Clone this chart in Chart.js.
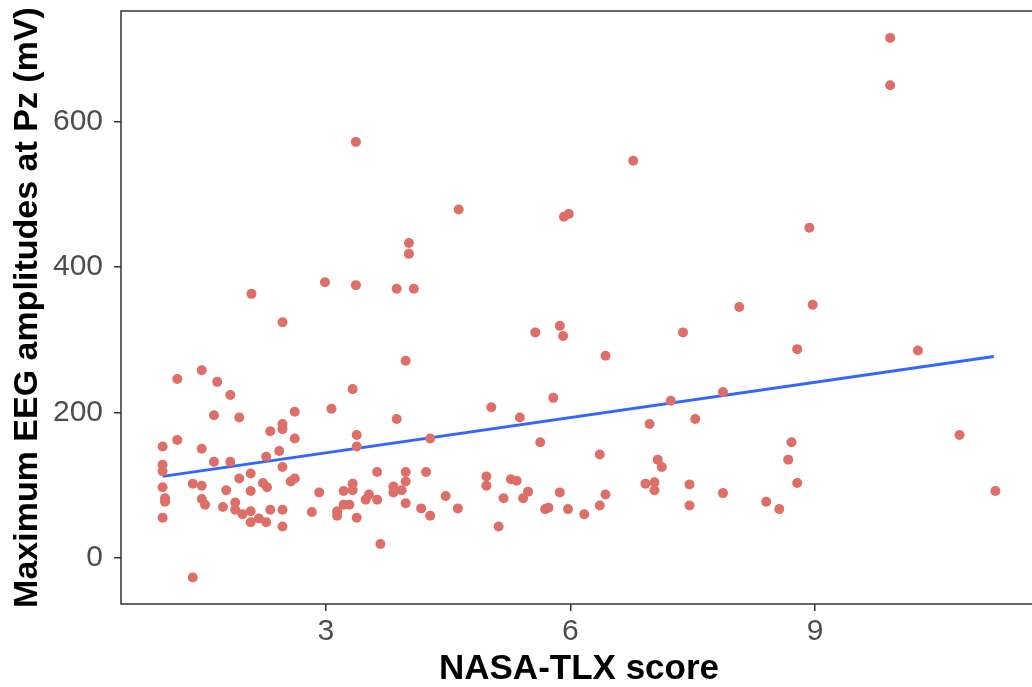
<!DOCTYPE html>
<html>
<head>
<meta charset="utf-8">
<script src="https://cdn.jsdelivr.net/npm/chart.js@4"></script>
<style>
  html, body { margin: 0; padding: 0; background: #fff; overflow: hidden; }
  #wrap { width: 1042px; height: 687px; }
</style>
</head>
<body>
<div id="wrap"><canvas id="eegChart" width="1042" height="687"></canvas></div>
<script>
// NASA-TLX score per participant
const nasaTlx = [
    3.37, 2.09, 2.99, 3.37, 3.87, 4.08, 4.02, 4.02,
    6.77, 4.63, 5.92, 5.98, 8.07,
    9.92, 9.92, 8.93, 8.97,
    2.47, 1.18, 1.48, 1.67, 1.83, 1.63, 1.94, 2.62, 3.07, 2.32, 2.47, 2.47, 2.62,
    1.00, 1.18, 1.48, 2.43, 2.27, 1.00, 1.00, 1.63, 1.83, 2.47, 2.08, 1.94, 1.37,
    1.48, 1.00, 2.23, 2.28, 2.57, 2.62, 1.78, 2.08, 2.92, 3.22, 1.03, 1.03, 1.48,
    1.52, 1.74, 1.89, 1.89, 1.98, 2.08, 2.08, 2.18, 2.27, 2.32, 2.47, 2.47, 2.83,
    3.14, 3.14, 1.00, 1.37,
    3.33, 3.98, 3.87, 3.38, 3.38, 4.28, 5.03, 5.38, 5.57, 5.87, 5.91, 5.79, 5.63,
    3.63, 3.98, 4.23, 3.98, 3.33, 3.33, 3.83, 3.83, 3.93, 3.49, 3.53, 3.63, 3.98,
    4.47, 3.22, 3.29, 3.38, 4.17, 4.28, 4.62, 3.67, 4.97, 4.97, 5.18, 5.12, 5.27,
    5.34, 5.48, 5.42, 5.69, 5.73, 5.87, 5.97,
    6.43, 7.38, 6.97, 7.53, 7.23, 7.87, 6.36, 7.07, 7.12, 6.92, 7.03, 7.03, 7.46,
    7.46, 7.87, 6.17, 6.36, 6.43, 8.40, 8.56,
    8.78, 10.26, 8.71, 8.67, 8.78, 10.77, 11.21
];
// Maximum EEG amplitude at Pz (mV)
const eegAmp = [
    572, 363, 379, 375, 370, 370, 433, 418,
    546, 479, 469, 473, 345,
    715, 650, 454, 348,
    324, 246, 258, 242, 224, 196, 193, 201, 205, 174, 184, 177, 164,
    153, 162, 150, 147, 139, 128, 119, 132, 132, 125, 116, 109, 102,
    99, 97, 103, 97, 105, 109, 93, 92, 90, 92, 82, 77, 81,
    73, 70, 76, 66, 60, 64, 49, 54, 49, 66, 66, 43, 63,
    64, 58, 55, -27,
    232, 271, 191, 169, 153, 164, 207, 193, 310, 319, 305, 220, 159,
    118, 118, 118, 105, 102, 93, 98, 90, 93, 80, 87, 80, 75,
    85, 73, 73, 55, 68, 58, 68, 19, 112, 99, 82, 43, 108,
    106, 91, 82, 67, 69, 90, 67,
    278, 310, 184, 191, 216, 228, 142, 135, 125, 102, 104, 93, 101,
    72, 89, 60, 72, 87, 77, 67,
    287, 285, 159, 135, 103, 169, 92
];
// fitted linear trend, end points
const fitX = [1.0, 11.19];
const fitY = [112, 277];

const xTicks = [3, 6, 9];
const yTicks = [0, 200, 400, 600];

const fontFamily = '"Liberation Sans", Arial, sans-serif';

const framePlugin = {
    id: 'frame',
    afterDraw(chart) {
        const { ctx, chartArea: a } = chart;
        ctx.save();
        ctx.strokeStyle = '#333333';
        ctx.lineWidth = 1.5;
        ctx.beginPath();
        ctx.moveTo(a.right, a.top);
        ctx.lineTo(a.left, a.top);
        ctx.lineTo(a.left, a.bottom);
        ctx.lineTo(a.right, a.bottom);
        ctx.stroke();
        ctx.restore();
    }
};

new Chart(document.getElementById('eegChart'), {
    type: 'scatter',
    data: {
        datasets: [{
            label: 'Participants',
            data: nasaTlx.map((x, i) => ({ x: x, y: eegAmp[i] })),
            backgroundColor: '#DD6F68',
            borderWidth: 0,
            pointRadius: 5
        }, {
            type: 'line',
            label: 'Linear fit',
            data: fitX.map((x, i) => ({ x: x, y: fitY[i] })),
            borderColor: '#3366FF',
            borderWidth: 3,
            pointRadius: 0,
            fill: false
        }]
    },
    options: {
        responsive: false,
        animation: false,
        layout: {
            padding: { top: 11, right: 2, left: 0, bottom: 0 }
        },
        plugins: {
            legend: { display: false },
            tooltip: { enabled: false }
        },
        scales: {
            x: {
                type: 'linear',
                min: 0.49,
                max: 11.72,
                afterBuildTicks: s => { s.ticks = xTicks.map(v => ({ value: v })); },
                afterFit: s => { s.height = 83; s.paddingLeft = 0; s.paddingRight = 0; },
                grid: {
                    drawOnChartArea: false,
                    drawTicks: true,
                    tickLength: 7,
                    color: '#333333',
                    lineWidth: 1.5
                },
                border: { display: false },
                ticks: {
                    color: '#4d4d4d',
                    padding: 3,
                    font: { family: fontFamily, size: 30 }
                },
                title: {
                    display: true,
                    text: 'NASA-TLX score',
                    color: '#000000',
                    padding: 0,
                    font: { family: fontFamily, size: 35, weight: 'bold', lineHeight: 1.0 }
                }
            },
            y: {
                type: 'linear',
                min: -63.5,
                max: 752,
                afterBuildTicks: s => { s.ticks = yTicks.map(v => ({ value: v })); },
                afterFit: s => { s.width = 121; s.paddingTop = 0; s.paddingBottom = 0; },
                grid: {
                    drawOnChartArea: false,
                    drawTicks: true,
                    tickLength: 7,
                    color: '#333333',
                    lineWidth: 1.5
                },
                border: { display: false },
                ticks: {
                    color: '#4d4d4d',
                    padding: 11,
                    font: { family: fontFamily, size: 30 }
                },
                title: {
                    display: true,
                    text: 'Maximum EEG amplitudes at Pz (mV)',
                    color: '#000000',
                    padding: { top: 7, bottom: 0 },
                    font: { family: fontFamily, size: 34, weight: 'bold' }
                }
            }
        }
    },
    plugins: [framePlugin]
});
</script>
</body>
</html>
